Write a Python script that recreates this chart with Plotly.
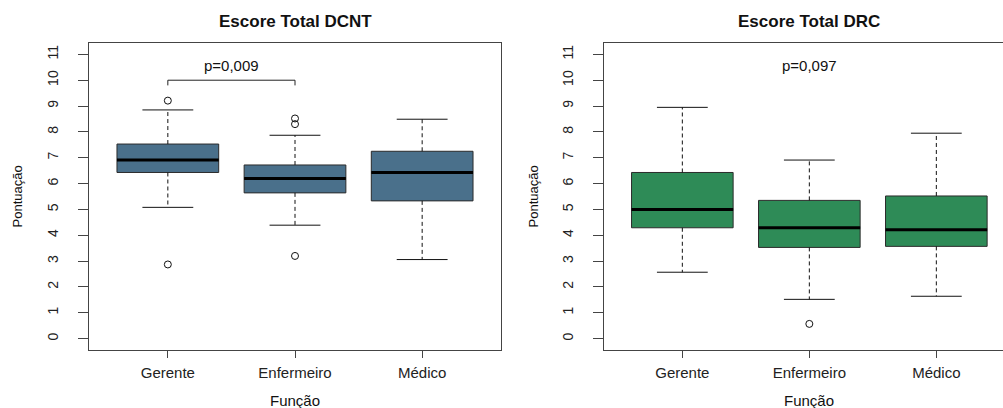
import plotly.graph_objects as go

# Categories (x axis)
funcoes = ["Gerente", "Enfermeiro", "Médico"]
posicoes = [1, 2, 3]

# Escore Total DCNT: box statistics per category
dcnt_inferior = [5.08, 4.39, 3.06]
dcnt_q1 = [6.43, 5.64, 5.33]
dcnt_mediana = [6.91, 6.20, 6.43]
dcnt_q3 = [7.53, 6.72, 7.25]
dcnt_superior = [8.85, 7.87, 8.49]
dcnt_outliers = [[9.21, 2.87], [8.52, 8.30, 3.20], []]

# Escore Total DRC: box statistics per category
drc_inferior = [2.57, 1.52, 1.64]
drc_q1 = [4.29, 3.53, 3.57]
drc_mediana = [5.00, 4.29, 4.21]
drc_q3 = [6.43, 5.35, 5.52]
drc_superior = [8.95, 6.91, 7.95]
drc_outliers = [[], [0.57], []]

# Significance annotations
p_dcnt = "p=0,009"
p_drc = "p=0,097"
chave_y = 10.0
chave_ponta = 9.8

y_ticks = list(range(0, 12))

FONT = "Liberation Sans, Arial, Helvetica, sans-serif"
AZUL = "#4A708B"
VERDE = "#2E8B57"
BORDA = "#2b2b2b"
BOX_W = 0.8
CAP_W = 0.4

W, H = 1003, 408
fig = go.Figure()


def add_panel(xa, ya, inf, q1, med, q3, sup, outs, cor):
    xref = "x" if xa == "xaxis" else "x2"
    yref = "y" if ya == "yaxis" else "y2"
    fig.add_trace(go.Box(
        x=posicoes, q1=q1, median=med, q3=q3, lowerfence=q1, upperfence=q3,
        width=BOX_W, fillcolor=cor, line=dict(color=BORDA, width=1),
        whiskerwidth=0, boxpoints=False, xaxis=xref, yaxis=yref,
        showlegend=False, hoverinfo="skip"))
    for p, lo, a, m, b, hi, o in zip(posicoes, inf, q1, med, q3, sup, outs):
        # dashed whiskers
        for y0, y1 in ((b, hi), (a, lo)):
            fig.add_trace(go.Scatter(
                x=[p, p], y=[y0, y1], mode="lines",
                line=dict(color="#111", width=1, dash="4px,3px"),
                xaxis=xref, yaxis=yref, showlegend=False, hoverinfo="skip"))
        # whisker caps
        for yv in (lo, hi):
            fig.add_trace(go.Scatter(
                x=[p - CAP_W / 2, p + CAP_W / 2], y=[yv, yv], mode="lines",
                line=dict(color="#111", width=1),
                xaxis=xref, yaxis=yref, showlegend=False, hoverinfo="skip"))
        # thick median
        fig.add_trace(go.Scatter(
            x=[p - BOX_W / 2, p + BOX_W / 2], y=[m, m], mode="lines",
            line=dict(color="#000", width=3),
            xaxis=xref, yaxis=yref, showlegend=False, hoverinfo="skip"))
        if o:
            fig.add_trace(go.Scatter(
                x=[p] * len(o), y=o, mode="markers",
                marker=dict(symbol="circle-open", size=7,
                            line=dict(color="#111", width=1), color="#111"),
                xaxis=xref, yaxis=yref, showlegend=False, hoverinfo="skip"))


add_panel("xaxis", "yaxis", dcnt_inferior, dcnt_q1, dcnt_mediana, dcnt_q3,
          dcnt_superior, dcnt_outliers, AZUL)
add_panel("xaxis2", "yaxis2", drc_inferior, drc_q1, drc_mediana, drc_q3,
          drc_superior, drc_outliers, VERDE)

# bracket between Gerente and Enfermeiro (DCNT)
fig.add_trace(go.Scatter(
    x=[posicoes[0], posicoes[0], posicoes[1], posicoes[1]],
    y=[chave_ponta, chave_y, chave_y, chave_ponta], mode="lines",
    line=dict(color="#222", width=1), xaxis="x", yaxis="y",
    showlegend=False, hoverinfo="skip"))

y_dom = [1 - 350 / H, 1 - 43 / H]
y_rng = [-0.44, 11.44]
common_y = dict(
    range=y_rng, domain=y_dom, tickvals=y_ticks, ticktext=[str(v) for v in y_ticks],
    tickangle=-90, ticks="outside", ticklen=10, tickcolor="#444",
    tickfont=dict(family=FONT, size=14, color="#222"),
    showgrid=False, zeroline=False, showline=True, linecolor="#444",
    linewidth=1, ticklabelstandoff=14, fixedrange=True)
common_x = dict(
    tickvals=posicoes, ticktext=funcoes, ticks="outside", ticklen=7,
    tickcolor="#444", tickfont=dict(family=FONT, size=15, color="#222"),
    showgrid=False, zeroline=False, showline=True, linecolor="#444",
    linewidth=1, mirror=True, ticklabelstandoff=2, fixedrange=True)

fig.update_layout(
    width=W, height=H, margin=dict(l=0, r=0, t=0, b=0),
    paper_bgcolor="white", plot_bgcolor="white",
    xaxis=dict(common_x, domain=[89 / W, 501 / W], range=[0.38, 3.62],
               anchor="y"),
    yaxis=dict(common_y, anchor="x", mirror=True),
    xaxis2=dict(common_x, domain=[603.6 / W, 1.0], range=[0.38, 3.525],
                anchor="y2"),
    yaxis2=dict(common_y, anchor="x2"),
)

annots = [
    dict(text="<b>Escore Total DCNT</b>", x=295 / W, y=1 - 21 / H, size=17),
    dict(text="<b>Escore Total DRC</b>", x=809 / W, y=1 - 21 / H, size=17),
    dict(text="Função", x=295 / W, y=1 - 400 / H, size=15),
    dict(text="Função", x=809 / W, y=1 - 400 / H, size=15),
]
for a in annots:
    fig.add_annotation(text=a["text"], x=a["x"], y=a["y"], xref="paper",
                       yref="paper", showarrow=False, xanchor="center",
                       yanchor="middle",
                       font=dict(family=FONT, size=a["size"], color="#111"))
for xp in (17 / W, 533 / W):
    fig.add_annotation(text="Pontuação", x=xp, y=(y_dom[0] + y_dom[1]) / 2,
                       xref="paper", yref="paper", showarrow=False,
                       textangle=-90, xanchor="center", yanchor="middle",
                       font=dict(family=FONT, size=13, color="#111"))

fig.add_annotation(text=p_dcnt, x=1.5, y=10.55, xref="x", yref="y",
                   showarrow=False, font=dict(family=FONT, size=15, color="#111"))
fig.add_annotation(text=p_drc, x=2, y=10.55, xref="x2", yref="y2",
                   showarrow=False, font=dict(family=FONT, size=15, color="#111"))

fig.write_html("out.html")
